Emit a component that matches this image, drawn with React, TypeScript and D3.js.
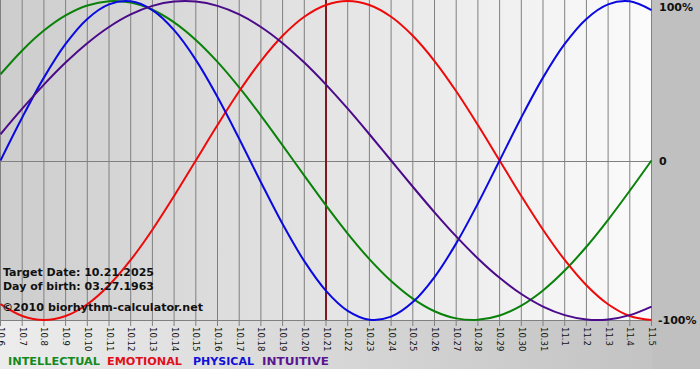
import React from "react";
import * as d3 from "d3";

const dates = ["10.6","10.7","10.8","10.9","10.10","10.11","10.12","10.13","10.14","10.15","10.16","10.17","10.18","10.19","10.20","10.21","10.22","10.23","10.24","10.25","10.26","10.27","10.28","10.29","10.30","10.31","11.1","11.2","11.3","11.4","11.5"];

const intellectual = [0.5406,0.6901,0.8146,0.9096,0.9718,0.9989,0.9898,0.9450,0.8660,0.7557,0.6182,0.4582,0.2817,0.0951,-0.0951,-0.2817,-0.4582,-0.6182,-0.7557,-0.8660,-0.9450,-0.9898,-0.9989,-0.9718,-0.9096,-0.8146,-0.6901,-0.5406,-0.3717,-0.1893,0];
const emotional = [-0.9010,-0.9749,-1,-0.9749,-0.9010,-0.7818,-0.6235,-0.4339,-0.2225,0,0.2225,0.4339,0.6235,0.7818,0.9010,0.9749,1,0.9749,0.9010,0.7818,0.6235,0.4339,0.2225,0,-0.2225,-0.4339,-0.6235,-0.7818,-0.9010,-0.9749,-1];
const physical = [0,0.2698,0.5196,0.7308,0.8879,0.9791,0.9977,0.9423,0.8170,0.6311,0.3984,0.1362,-0.1362,-0.3984,-0.6311,-0.8170,-0.9423,-0.9977,-0.9791,-0.8879,-0.7308,-0.5196,-0.2698,0,0.2698,0.5196,0.7308,0.8879,0.9791,0.9977,0.9423];
const intuitive = [0.1646,0.3247,0.4759,0.6142,0.7357,0.8372,0.9158,0.9694,0.9966,0.9966,0.9694,0.9158,0.8372,0.7357,0.6142,0.4759,0.3247,0.1646,0,-0.1646,-0.3247,-0.4759,-0.6142,-0.7357,-0.8372,-0.9158,-0.9694,-0.9966,-0.9966,-0.9694,-0.9158];

const yTicks = [1, 0, -1];
const yTickLabels = ["100%", "0", "-100%"];
const targetIndex = 15;
const infoLines = ["Target Date: 10.21.2025", "Day of birth: 03.27.1963", "\u00A92010 biorhythm-calculator.net"];
const legendNames = ["INTELLECTUAL", "EMOTIONAL", "PHYSICAL", "INTUITIVE"];

export default function App() {
  const W = 700, H = 380;
  const plotL = 0, plotR = 651, plotT = 1, plotB = 320;
  const x = d3.scaleLinear().domain([0, dates.length - 1]).range([plotL + 0.5, plotR + 0.5]);
  const y = d3.scaleLinear().domain([-1, 1]).range([plotB, plotT]);
  const line = d3.line<number>().x((_, i) => x(i)).y((d) => y(d)).curve(d3.curveCatmullRom.alpha(0.5));

  const series = [
    { name: legendNames[0], data: intellectual, color: "#0a820a", text: "#138a1e" },
    { name: legendNames[1], data: emotional, color: "#ee0a0a", text: "#e0101a" },
    { name: legendNames[2], data: physical, color: "#0a0ae0", text: "#1010d8" },
    { name: legendNames[3], data: intuitive, color: "#4a0a8a", text: "#5a1690" },
  ];
  const legendX = [8, 107, 193, 262];
  const legendW = [92, 75, 61, 67];
  const infoW = [151, 151, 201];
  const infoX = [3, 3, 2];
  const infoY = [276, 290, 311];

  return (
    <div style={{ position: "absolute", left: 0, top: 0 }}>
      <svg width={W} height={H} style={{ display: "block" }}>
        <defs>
          <linearGradient id="plotBg" x1="0" x2="1" y1="0" y2="0">
            <stop offset="0" stopColor="#cdcdcd" />
            <stop offset="1" stopColor="#fbfbfb" />
          </linearGradient>
          <linearGradient id="outerBg" x1="0" x2="1" y1="0" y2="0">
            <stop offset="0" stopColor="#ececec" />
            <stop offset="1" stopColor="#c0c0c0" />
          </linearGradient>
          <clipPath id="plotClip">
            <rect x={plotL} y={0} width={plotR - plotL + 2} height={plotB + 2} />
          </clipPath>
        </defs>
        <rect x={0} y={0} width={W} height={369} fill="url(#outerBg)" />
        <rect x={plotR + 1} y={0} width={W - plotR - 1} height={369} fill="#c0c0c0" />
        <rect x={plotL} y={0} width={plotR - plotL + 1} height={plotB + 1} fill="url(#plotBg)" />
        {dates.map((d, i) => (
          <line key={"g" + i} x1={x(i)} x2={x(i)} y1={0} y2={plotB + 6} stroke="#808080" strokeWidth={1} />
        ))}
        <line x1={plotL} x2={plotR + 1} y1={Math.round(y(0)) + 0.5} y2={Math.round(y(0)) + 0.5} stroke="#808080" strokeWidth={1} />
        <line x1={plotL} x2={plotR + 1} y1={plotB + 0.5} y2={plotB + 0.5} stroke="#808080" strokeWidth={1} />
        <line x1={x(targetIndex)} x2={x(targetIndex)} y1={0} y2={plotB} stroke="#7f1a22" strokeWidth={2} />
        <g clipPath="url(#plotClip)">
          {series.map((s) => (
            <path key={s.name} d={line(s.data) || ""} fill="none" stroke={s.color} strokeWidth={2} />
          ))}
        </g>
        {infoLines.map((t, i) => (
          <text key={"info" + i} x={infoX[i]} y={infoY[i]} fontFamily="DejaVu Sans, Verdana, sans-serif" fontWeight="bold" fontSize={11} fill="#111" textLength={infoW[i]} lengthAdjust="spacingAndGlyphs">{t}</text>
        ))}
        {dates.map((d, i) => (
          <text key={"t" + i} transform={`translate(${x(i)},${plotB + 7}) rotate(90)`} fontFamily="DejaVu Sans, Verdana, sans-serif" fontSize={8.5} fill="#111" dominantBaseline="middle" textAnchor="start">{d}</text>
        ))}
        {yTicks.map((v, i) => (
          <text key={"y" + i} x={i === 2 ? 658 : 659} y={i === 0 ? 8 : y(v) + 1} fontFamily="DejaVu Sans, Verdana, sans-serif" fontWeight="bold" fontSize={11} fill="#111" dominantBaseline="middle">{yTickLabels[i]}</text>
        ))}
        {series.map((s, i) => (
          <text key={"l" + i} x={legendX[i]} y={365} fontFamily="DejaVu Sans, Verdana, sans-serif" fontWeight="bold" fontSize={11} fill={s.text} textLength={legendW[i]} lengthAdjust="spacingAndGlyphs">{s.name}</text>
        ))}
      </svg>
    </div>
  );
}
